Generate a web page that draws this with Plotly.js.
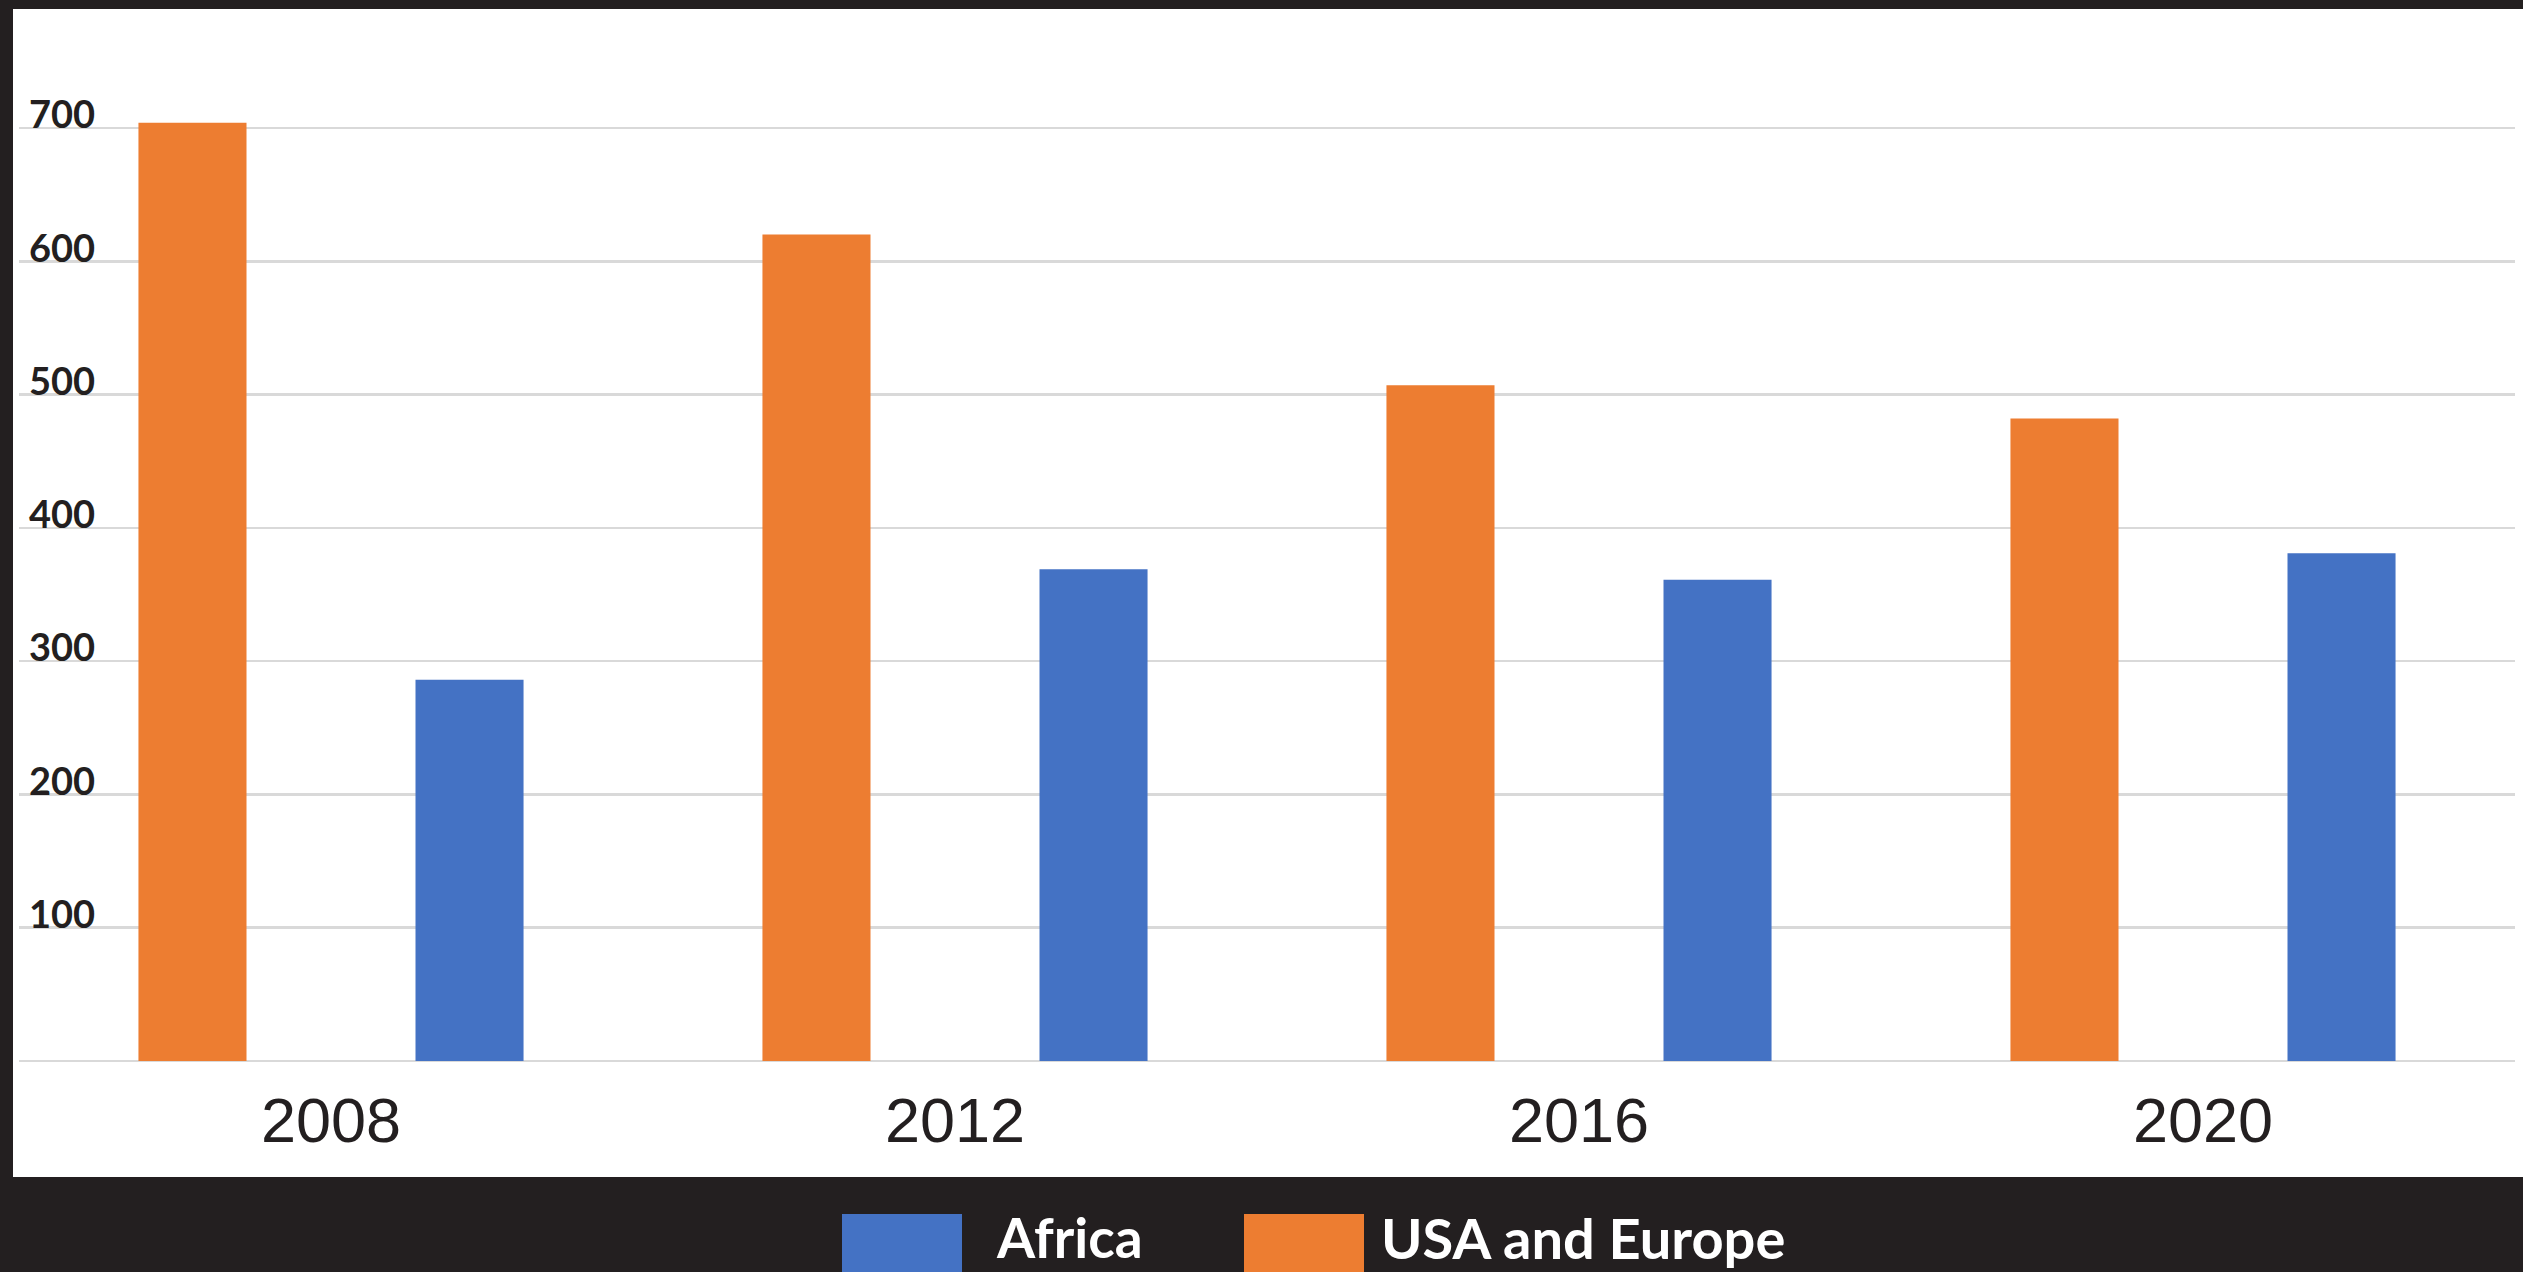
<!DOCTYPE html>
<html>
<head>
<meta charset="utf-8">
<script src="https://cdn.plot.ly/plotly-3.0.1.min.js"></script>
<style>
html,body{margin:0;padding:0;background:#231f20;}
#chart{width:2523px;height:1272px;}
</style>
</head>
<body>
<div id="chart"></div>
<script>
const years = ["2008", "2012", "2016", "2020"];
const usaEurope = [704, 620, 507, 482];
const africa = [286, 369, 361, 381];
const yTicks = [100, 200, 300, 400, 500, 600, 700];
const seriesNames = ["Africa", "USA and Europe"];

const colAfrica = "#4472c4";
const colUSA = "#ed7d31";

const W = 2523, H = 1272;
const mL = 19, mR = 8, mT = 9, mB = 211;
const pw = W - mL - mR, ph = H - mT - mB;
const px = X => (X - mL) / pw;
const py = Y => (H - mB - Y) / ph;

const traces = [
  {type: "bar", name: seriesNames[1], x: years, y: usaEurope,
   marker: {color: colUSA}, hoverinfo: "x+y+name"},
  {type: "bar", name: seriesNames[0], x: years, y: africa,
   marker: {color: colAfrica}, hoverinfo: "x+y+name"}
];

const layout = {
  width: W, height: H,
  margin: {l: mL, r: mR, t: mT, b: mB, pad: 0},
  paper_bgcolor: "#231f20",
  plot_bgcolor: "#ffffff",
  showlegend: false,
  barmode: "group",
  bargap: 0.112,
  bargroupgap: 0.61,
  xaxis: {
    type: "category",
    range: [-0.5, 3.5],
    showgrid: false, zeroline: false, showline: false,
    ticks: "",
    tickfont: {family: "Liberation Sans, Arial, sans-serif", size: 63, color: "#231f20"},
    ticklabelstandoff: 17
  },
  yaxis: {
    range: [0, (H - mB - mT) / 1.3329],
    tickvals: yTicks,
    ticktext: yTicks.map(String),
    showgrid: true, gridcolor: "#d9d9d9", gridwidth: 2.5,
    zeroline: true, zerolinecolor: "#d9d9d9", zerolinewidth: 2.5,
    showline: false, ticks: "",
    ticklabelposition: "inside",
    ticklabelstandoff: 7,
    ticklabelshift: -13,
    tickfont: {family: "Lato, sans-serif", size: 38, color: "#231f20", weight: "bold"}
  },
  shapes: [
    {type: "rect", xref: "paper", yref: "paper", layer: "below",
     x0: px(13), x1: px(W), y0: py(1177), y1: py(mT),
     fillcolor: "#ffffff", line: {width: 0}},
    {type: "rect", xref: "paper", yref: "paper",
     x0: px(842), x1: px(962), y0: py(1214), y1: py(1275),
     fillcolor: colAfrica, line: {width: 0}},
    {type: "rect", xref: "paper", yref: "paper",
     x0: px(1244), x1: px(1364), y0: py(1214), y1: py(1275),
     fillcolor: colUSA, line: {width: 0}}
  ],
  annotations: [
    {xref: "paper", yref: "paper", x: px(994), y: py(1237), xanchor: "left", yanchor: "middle",
     text: seriesNames[0], showarrow: false,
     font: {family: "Lato, sans-serif", size: 55, color: "#ffffff", weight: "bold"}},
    {xref: "paper", yref: "paper", x: px(1379), y: py(1237), xanchor: "left", yanchor: "middle",
     text: seriesNames[1], showarrow: false,
     font: {family: "Lato, sans-serif", size: 56, color: "#ffffff", weight: "bold"}}
  ]
};

Plotly.newPlot("chart", traces, layout, {displayModeBar: false, staticPlot: true});
</script>
</body>
</html>
